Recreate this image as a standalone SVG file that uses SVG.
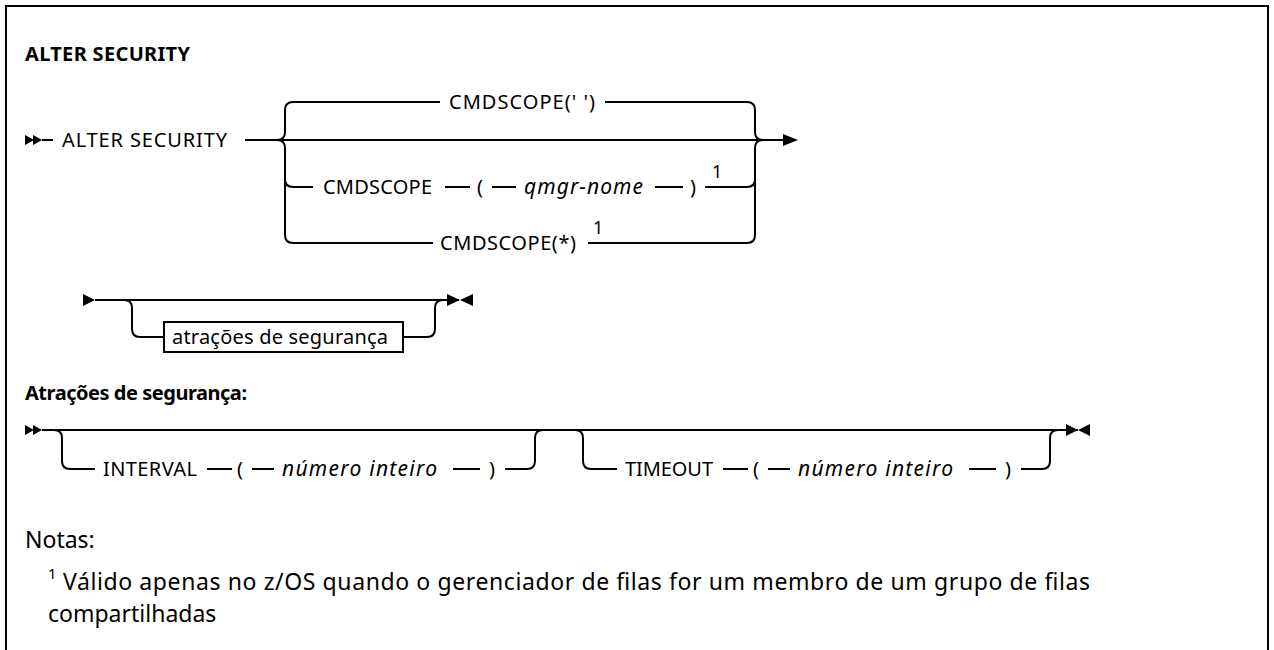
<svg xmlns="http://www.w3.org/2000/svg" width="1274" height="650" viewBox="0 0 1274 650">
<style>
.t{font-family:"Noto Sans","Liberation Sans",sans-serif;font-size:20px;fill:#000}
.i{font-style:italic;font-size:21px}
.b{font-weight:bold;font-size:20px}
.sup{font-family:"Noto Sans","Liberation Sans",sans-serif;font-size:18px;fill:#000}
.n{font-family:"Noto Sans","Liberation Sans",sans-serif;font-size:23px;fill:#000}
.ln{fill:none;stroke:#000;stroke-width:2}
.mk{fill:#000;stroke:none}
</style>
<rect x="6" y="6" width="1262" height="670" fill="#fff" stroke="#000" stroke-width="2"/>
<g id="title"><text class="t b" x="25" y="61" textLength="165">ALTER SECURITY</text></g>
<g id="connectors">
<path class="ln" d="M42,140 H53"/>
<path class="ln" d="M245,140 H783"/>
<path class="ln" d="M277,140 Q285,140 285,132 V110 Q285,102 293,102 H440"/>
<path class="ln" d="M605,102 H747 Q755,102 755,110 V132 Q755,140 763,140"/>
<path class="ln" d="M277,140 Q285,140 285,148 V235 Q285,243 293,243 H433"/>
<path class="ln" d="M588,243 H747 Q755,243 755,235 V148 Q755,140 763,140"/>
<path class="ln" d="M285,179 Q285,187 293,187 H313"/>
<path class="ln" d="M445,187 H470 M492,187 H516 M655,187 H683"/>
<path class="ln" d="M705,187 H747 Q755,187 755,179"/>
<path class="mk" d="M25,135 L34,140 L25,145 Z M33,135 L42,140 L33,145 Z"/>
<path class="mk" d="M783,134 L798,140 L783,146 Z"/>
<path class="ln" d="M95,300 H459"/>
<path class="mk" d="M83,294 L95,300 L83,306 Z"/>
<path class="ln" d="M124,300 Q132,300 132,308 V329 Q132,337 140,337 H164"/>
<path class="ln" d="M403,337 H427 Q435,337 435,329 V308 Q435,300 443,300"/>
<path class="mk" d="M447,294 L460,300 L447,306 Z M473,294 L460,300 L473,306 Z"/>
<path class="ln" d="M42,430 H1078"/>
<path class="mk" d="M25,425 L34,430 L25,435 Z M33,425 L42,430 L33,435 Z"/>
<path class="ln" d="M54,430 Q62,430 62,438 V461 Q62,469 70,469 H95"/>
<path class="ln" d="M207,469 H232 M252,469 H274 M453,469 H480"/>
<path class="ln" d="M505,469 H527 Q535,469 535,461 V438 Q535,430 543,430"/>
<path class="ln" d="M575,430 Q583,430 583,438 V461 Q583,469 591,469 H617"/>
<path class="ln" d="M723,469 H748 M768,469 H790 M969,469 H996"/>
<path class="ln" d="M1021,469 H1042 Q1050,469 1050,461 V438 Q1050,430 1058,430"/>
<path class="mk" d="M1066,424 L1078,430 L1066,436 Z M1090,424 L1078,430 L1090,436 Z"/>
</g>
<g id="node-alter"><text class="t" x="62" y="147" textLength="165">ALTER SECURITY</text></g>
<g id="node-cmdscope-blank"><text class="t" x="449" y="109" textLength="146">CMDSCOPE(' ')</text></g>
<g id="node-cmdscope-qmgr">
<text class="t" x="323" y="194" textLength="109">CMDSCOPE</text>
<text class="t" x="477" y="194">(</text>
<text class="t i" x="524" y="194" textLength="119">qmgr-nome</text>
<text class="t" x="690" y="194">)</text>
<text class="sup" x="712" y="178">1</text>
</g>
<g id="node-cmdscope-star">
<text class="t" x="440" y="250" textLength="136">CMDSCOPE(*)</text>
<text class="sup" x="593" y="234">1</text>
</g>
<g id="node-attrs">
<rect x="164" y="322" width="239" height="30" fill="#fff" stroke="#000" stroke-width="2"/>
<text class="t" x="172" y="344" textLength="216">atrações de segurança</text>
</g>
<g id="heading-attrs"><text class="t b" x="25" y="400" textLength="222">Atrações de segurança:</text></g>
<g id="node-interval">
<text class="t" x="103" y="476" textLength="94">INTERVAL</text>
<text class="t" x="237" y="476">(</text>
<text class="t i" x="282" y="476" textLength="155">número inteiro</text>
<text class="t" x="489" y="476">)</text>
</g>
<g id="node-timeout">
<text class="t" x="625" y="476" textLength="88">TIMEOUT</text>
<text class="t" x="753" y="476">(</text>
<text class="t i" x="798" y="476" textLength="155">número inteiro</text>
<text class="t" x="1005" y="476">)</text>
</g>
<g id="notes">
<text class="n" x="25" y="548">Notas:</text>
<text class="n" x="48" y="579" style="font-size:15px">1</text>
<text class="n" x="63" y="590" textLength="1027">Válido apenas no z/OS quando o gerenciador de filas for um membro de um grupo de filas</text>
<text class="n" x="48" y="622">compartilhadas</text>
</g>
</svg>
